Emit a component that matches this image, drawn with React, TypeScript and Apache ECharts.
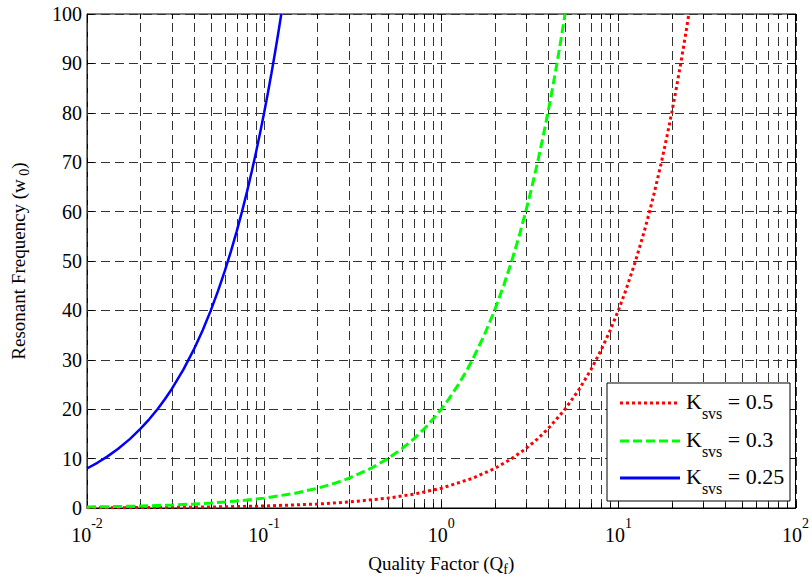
import React, { useEffect, useRef } from "react";
import * as echarts from "echarts";

const FONT = "'Liberation Serif', 'Times New Roman', serif";

const xDecades = [0.01, 0.1, 1, 10, 100];
const xGridValues = [
  0.01, 0.02, 0.03, 0.04, 0.05, 0.06, 0.07, 0.08, 0.09,
  0.1, 0.2, 0.3, 0.4, 0.5, 0.6, 0.7, 0.8, 0.9,
  1, 2, 3, 4, 5, 6, 7, 8, 9,
  10, 20, 30, 40, 50, 60, 70, 80, 90,
  100,
];

const qBlue = [0.01, 0.0115, 0.013, 0.015, 0.0175, 0.02, 0.0225, 0.025, 0.0275, 0.03, 0.035, 0.04, 0.045, 0.05, 0.055, 0.06, 0.065, 0.07, 0.075, 0.08, 0.085, 0.09, 0.095, 0.1, 0.105, 0.11, 0.115, 0.12, 0.125];
const wBlue = [8, 9.2, 10.4, 12, 14, 16, 18, 20, 22, 24, 28, 32, 36, 40, 44, 48, 52, 56, 60, 64, 68, 72, 76, 80, 84, 88, 92, 96, 100];

const qGreen = [0.01, 0.015, 0.02, 0.03, 0.04, 0.05, 0.07, 0.1, 0.15, 0.2, 0.25, 0.3, 0.4, 0.5, 0.6, 0.7, 0.8, 0.9, 1, 1.1, 1.25, 1.4, 1.5, 1.75, 2, 2.25, 2.5, 2.75, 3, 3.25, 3.5, 3.75, 4, 4.25, 4.5, 4.75, 5];
const wGreen = [0.2, 0.3, 0.4, 0.6, 0.8, 1, 1.4, 2, 3, 4, 5, 6, 8, 10, 12, 14, 16, 18, 20, 22, 25, 28, 30, 35, 40, 45, 50, 55, 60, 65, 70, 75, 80, 85, 90, 95, 100];

const qRed = [0.01, 0.02, 0.05, 0.1, 0.2, 0.3, 0.5, 0.7, 1, 1.5, 2, 2.5, 3, 3.5, 4, 5, 6, 7, 8, 9, 10, 11, 12.5, 14, 15, 16, 17.5, 19, 20, 21, 22.5, 24, 25];
const wRed = [0.04, 0.08, 0.2, 0.4, 0.8, 1.2, 2, 2.8, 4, 6, 8, 10, 12, 14, 16, 20, 24, 28, 32, 36, 40, 44, 50, 56, 60, 64, 70, 76, 80, 84, 90, 96, 100];

const legendLabels = ["0.5", "0.3", "0.25"];

const pairs = (xs: number[], ys: number[]) => xs.map((x, i) => [x, ys[i]]);

export default function App() {
  const ref = useRef<HTMLDivElement>(null);
  useEffect(() => {
    if (!ref.current) return;
    const chart = echarts.init(ref.current, null, { renderer: "svg" });
    const gridDash = [9, 5];
    const gridColor = "#333";
    const legendRich = {
      k: { fontFamily: FONT, fontSize: 22, lineHeight: 22, color: "#000", verticalAlign: "top" },
      s: { fontFamily: FONT, fontSize: 16, lineHeight: 15, color: "#000", padding: [15, 0, 0, 0], verticalAlign: "top" },
    };
    const rowY = [403, 441, 478];
    const legendStyles = [
      { stroke: "#ff0000", lineWidth: 3, lineDash: [3, 3] },
      { stroke: "#00ff00", lineWidth: 3, lineDash: [9, 4] },
      { stroke: "#0000ff", lineWidth: 3 },
    ];
    const graphic: any[] = [
      {
        type: "rect",
        z: 100,
        shape: { x: 607, y: 383, width: 183, height: 118 },
        style: { fill: "#fff", stroke: "#000", lineWidth: 1 },
      },
    ];
    legendLabels.forEach((lab, i) => {
      graphic.push({
        type: "line",
        z: 101,
        shape: { x1: 620, y1: rowY[i], x2: 680, y2: rowY[i] },
        style: legendStyles[i],
      });
      graphic.push({
        type: "text",
        z: 101,
        x: 686,
        y: rowY[i] - 13,
        style: {
          text: `{k|K}{s|svs}{k| = ${lab}}`,
          rich: legendRich,
          fontFamily: FONT,
          verticalAlign: "top",
          align: "left",
        },
      });
    });

    chart.setOption({
      animation: false,
      backgroundColor: "#fff",
      textStyle: { fontFamily: FONT },
      grid: {
        left: 87,
        right: 12,
        top: 14,
        bottom: 73,
        show: true,
        borderColor: "#000",
        borderWidth: 1,
        backgroundColor: "transparent",
      },
      xAxis: {
        type: "log",
        logBase: 10,
        min: 0.01,
        max: 100,
        splitNumber: 4,
        axisLine: { show: true, lineStyle: { color: "#000", width: 1 } },
        axisTick: { show: false },
        splitLine: { show: false },
        name: "Quality Factor (Q{sub|f})",
        nameLocation: "middle",
        nameGap: 42,
        nameTextStyle: {
          fontFamily: FONT,
          fontSize: 19,
          color: "#000",
          rich: {
            sub: { fontFamily: FONT, fontSize: 14, color: "#000", padding: [12, 0, 0, 0] },
          },
        },
        axisLabel: {
          margin: 8,
          fontFamily: FONT,
          formatter: (v: number) => {
            const e = Math.round(Math.log10(v));
            return `{b|10}{s|${e}}`;
          },
          rich: {
            b: { fontFamily: FONT, fontSize: 20, lineHeight: 24, color: "#000", padding: [9, 0, 0, 0], verticalAlign: "top" },
            s: { fontFamily: FONT, fontSize: 14, lineHeight: 14, color: "#000", verticalAlign: "top" },
          },
        },
      },
      yAxis: [
        {
          type: "value",
          min: 0,
          max: 100,
          interval: 10,
          axisLine: { show: true, lineStyle: { color: "#000", width: 1 } },
          axisTick: { show: true, inside: true, length: 7, lineStyle: { color: "#000" } },
          splitLine: { show: true, lineStyle: { color: gridColor, width: 1, type: gridDash } },
          axisLabel: { fontFamily: FONT, fontSize: 20, color: "#000", margin: 5 },
          name: "Resonant Frequency (w{sub| 0})",
          nameLocation: "middle",
          nameRotate: 90,
          nameGap: 56,
          nameTextStyle: {
            fontFamily: FONT,
            fontSize: 19,
            color: "#000",
            rich: {
              sub: { fontFamily: FONT, fontSize: 14, color: "#000", padding: [12, 0, 0, 0] },
            },
          },
        },
        {
          type: "value",
          position: "right",
          min: 0,
          max: 100,
          interval: 10,
          axisLine: { show: true, lineStyle: { color: "#000", width: 1 } },
          axisTick: { show: true, inside: true, length: 7, lineStyle: { color: "#000" } },
          splitLine: { show: false },
          axisLabel: { show: false },
        },
      ],
      series: [
        {
          type: "custom",
          silent: true,
          z: 1,
          data: xGridValues.map((v) => [v, 0]),
          encode: { x: 0, y: 1 },
          renderItem: (params: any, api: any) => {
            const x = Math.round(api.coord([api.value(0), 0])[0]) + 0.5;
            const cs = params.coordSys;
            const top = cs.y;
            const bottom = cs.y + cs.height;
            const isMajor = xDecades.includes(api.value(0));
            const tl = isMajor ? 7 : 5;
            return {
              type: "group",
              children: [
                {
                  type: "line",
                  shape: { x1: x, y1: bottom, x2: x, y2: top },
                  style: { stroke: gridColor, lineWidth: 1, lineDash: gridDash },
                },
                {
                  type: "line",
                  shape: { x1: x, y1: bottom, x2: x, y2: bottom - tl },
                  style: { stroke: "#000", lineWidth: 1 },
                },
                {
                  type: "line",
                  shape: { x1: x, y1: top, x2: x, y2: top + tl },
                  style: { stroke: "#000", lineWidth: 1 },
                },
              ],
            };
          },
        },
        {
          type: "line",
          name: "Ksvs = 0.5",
          data: pairs(qRed, wRed),
          showSymbol: false,
          z: 3,
          lineStyle: { color: "#ff0000", width: 3, type: [3, 3] },
        },
        {
          type: "line",
          name: "Ksvs = 0.3",
          data: pairs(qGreen, wGreen),
          showSymbol: false,
          z: 3,
          lineStyle: { color: "#00ff00", width: 3, type: [9, 4] },
        },
        {
          type: "line",
          name: "Ksvs = 0.25",
          data: pairs(qBlue, wBlue),
          showSymbol: false,
          z: 3,
          lineStyle: { color: "#0000ff", width: 2.5 },
        },
      ],
      graphic,
    });
    return () => chart.dispose();
  }, []);
  return (
    <div
      ref={ref}
      style={{ position: "absolute", left: 0, top: 0, width: 812, height: 581 }}
    />
  );
}
